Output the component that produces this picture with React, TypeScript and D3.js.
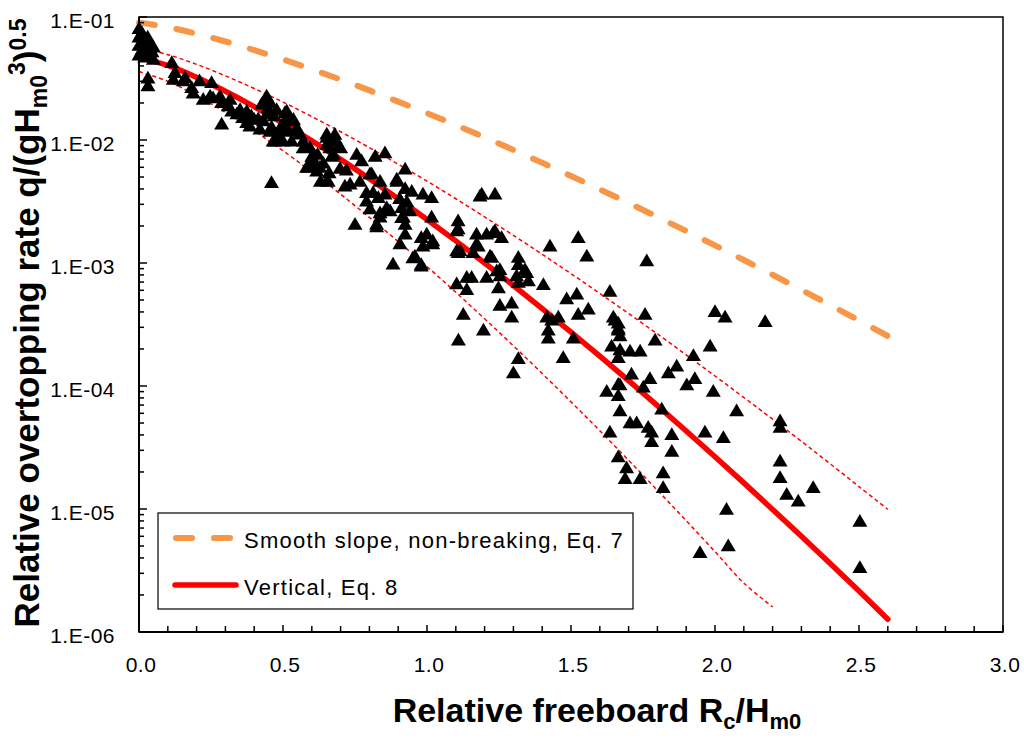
import React from 'react';
import * as d3 from 'd3';

// ---------- data ----------
const xTickValues = [0, 0.5, 1.0, 1.5, 2.0, 2.5, 3.0];
const xTickLabels = ['0.0', '0.5', '1.0', '1.5', '2.0', '2.5', '3.0'];
const yTickValues = [1e-1, 1e-2, 1e-3, 1e-4, 1e-5, 1e-6];
const yTickLabels = ['1.E-01', '1.E-02', '1.E-03', '1.E-04', '1.E-05', '1.E-06'];

const curveRc = [0, 0.1, 0.2, 0.3, 0.4, 0.5, 0.6, 0.7, 0.8, 0.9, 1.0, 1.1, 1.2, 1.3, 1.4, 1.5, 1.6, 1.7, 1.8, 1.9, 2.0, 2.1, 2.2, 2.3, 2.4, 2.5, 2.6];
const smoothSlopeQ = [0.09, 0.0827, 0.073, 0.0632, 0.0538, 0.0452, 0.0376, 0.031, 0.0253, 0.0205, 0.01654, 0.01323, 0.01051, 0.00831, 0.00652, 0.0051, 0.00397, 0.00307, 0.00237, 0.00182, 0.00139, 0.001058, 0.000802, 0.000605, 0.000455, 0.000341, 0.000255];
const verticalQ = [0.047, 0.0404, 0.0323, 0.0249, 0.01868, 0.01369, 0.00985, 0.00696, 0.00485, 0.00333, 0.002257, 0.001512, 0.001001, 0.000656, 0.000426, 0.000274, 0.000175, 0.0001105, 0.0000693, 0.0000431, 0.0000266, 0.0000163, 0.00000992, 0.000006, 0.0000036, 0.00000215, 0.00000127];
const upperQ = [0.056, 0.0494, 0.0412, 0.03324, 0.02624, 0.02034, 0.0155, 0.01167, 0.00866, 0.00636, 0.00463, 0.00333, 0.00237, 0.001678, 0.001177, 0.000819, 0.000566, 0.000388, 0.000265, 0.000179, 0.0001206, 0.0000807, 0.0000537, 0.0000355, 0.0000233, 0.0000152, 0.00000994];
const lowerRc = [0, 0.1, 0.2, 0.3, 0.4, 0.5, 0.6, 0.7, 0.8, 0.9, 1.0, 1.1, 1.2, 1.3, 1.4, 1.5, 1.6, 1.7, 1.8, 1.9, 2.0, 2.1, 2.2];
const lowerQ = [0.036, 0.03, 0.02295, 0.01678, 0.01187, 0.00818, 0.0055, 0.003625, 0.002346, 0.001494, 0.000936, 0.000578, 0.000352, 0.000212, 0.0001263, 0.0000743, 0.0000433, 0.0000249, 0.0000142, 0.00000803, 0.0000045, 0.0000025, 0.0000016];

const observed: [number, number][] = [
  [0.0, 0.082], [0.0, 0.07], [0.0, 0.06], [0.0, 0.05], [0.01, 0.076], [0.01, 0.055], [0.015, 0.066],
  [0.02, 0.048], [0.025, 0.058], [0.03, 0.07], [0.035, 0.05], [0.04, 0.062], [0.045, 0.053],
  [0.05, 0.058], [0.05, 0.046], [0.031, 0.0325], [0.031, 0.028],
  [0.114, 0.0433], [0.125, 0.0359], [0.119, 0.0317], [0.16, 0.0328], [0.154, 0.0308], [0.183, 0.0271],
  [0.21, 0.0308], [0.252, 0.0298], [0.188, 0.0245], [0.223, 0.0218], [0.247, 0.0232], [0.281, 0.0232],
  [0.287, 0.0205], [0.316, 0.0218], [0.257, 0.0224], [0.287, 0.0137], [0.31, 0.0193], [0.322, 0.0175],
  [0.351, 0.018], [0.34, 0.0166], [0.374, 0.0175], [0.39, 0.016], [0.385, 0.0132], [0.374, 0.0141],
  [0.414, 0.0151], [0.443, 0.0211], [0.443, 0.0232], [0.426, 0.0199], [0.455, 0.0205], [0.478, 0.018],
  [0.448, 0.0186], [0.432, 0.0146], [0.42, 0.0125], [0.455, 0.012], [0.483, 0.0114], [0.466, 0.01],
  [0.46, 0.00458], [0.449, 0.0218], [0.443, 0.0165], [0.507, 0.017], [0.513, 0.0175], [0.513, 0.0155],
  [0.536, 0.015], [0.535, 0.0146], [0.548, 0.0121], [0.548, 0.0128], [0.49, 0.0107], [0.472, 0.01],
  [0.5, 0.01], [0.53, 0.01], [0.57, 0.01], [0.559, 0.0114], [0.49, 0.0125], [0.51, 0.0125],
  [0.47, 0.016], [0.5, 0.014], [0.52, 0.012], [0.46, 0.013], [0.4, 0.015], [0.36, 0.0155],
  [0.594, 0.00883], [0.57, 0.0088], [0.605, 0.0065], [0.605, 0.0069], [0.582, 0.0061], [0.588, 0.0061],
  [0.617, 0.0057], [0.628, 0.0061], [0.652, 0.00473], [0.63, 0.0047], [0.657, 0.0047], [0.652, 0.0114],
  [0.652, 0.0107], [0.68, 0.0113], [0.675, 0.0106], [0.686, 0.01], [0.652, 0.0094], [0.692, 0.0091],
  [0.663, 0.0088], [0.675, 0.0078], [0.669, 0.0075], [0.698, 0.006], [0.733, 0.00447], [0.715, 0.0043],
  [0.6, 0.0075], [0.62, 0.0078], [0.64, 0.0066], [0.66, 0.0055], [0.7, 0.0088], [0.72, 0.0058],
  [0.756, 0.0078], [0.773, 0.0069], [0.82, 0.0075], [0.854, 0.008], [0.802, 0.0054], [0.808, 0.0054],
  [0.767, 0.0047], [0.837, 0.0047], [0.813, 0.0038], [0.79, 0.0038], [0.854, 0.0037], [0.831, 0.00347],
  [0.79, 0.00325], [0.802, 0.0028], [0.86, 0.00287], [0.837, 0.0026], [0.872, 0.0027], [0.895, 0.0047],
  [0.895, 0.0049], [0.924, 0.0059], [0.924, 0.0041], [0.947, 0.0039], [0.986, 0.0037], [1.016, 0.00347],
  [0.912, 0.00287], [0.912, 0.00238], [0.918, 0.0024], [0.924, 0.0021], [0.924, 0.00175], [0.906, 0.00146],
  [0.93, 0.0032], [0.94, 0.0027], [0.905, 0.0034],
  [0.951, 0.00112], [0.958, 0.00116], [0.98, 0.00096], [0.98, 0.00099], [0.882, 0.001], [0.75, 0.0021],
  [0.825, 0.0021], [0.837, 0.0024], [0.825, 0.002], [1.016, 0.0024], [0.999, 0.00175], [1.02, 0.00154],
  [0.986, 0.0014], [0.98, 0.00164], [1.02, 0.00146],
  [1.108, 0.00224], [1.103, 0.00186], [1.108, 0.00193], [1.115, 0.00128], [1.103, 0.00128], [1.172, 0.00175],
  [1.172, 0.00146], [1.207, 0.00175], [1.236, 0.00186], [1.23, 0.0018], [1.259, 0.00164], [1.225, 0.00113],
  [1.178, 0.0014], [1.138, 0.00078], [1.103, 0.00069], [1.19, 0.0037], [1.236, 0.0037], [1.184, 0.00357],
  [1.242, 0.00088], [1.108, 0.00124], [1.16, 0.00124], [1.219, 0.00116], [1.317, 0.00113], [1.317, 0.00099],
  [1.253, 0.0009], [1.253, 0.0008], [1.346, 0.00085], [1.34, 0.0009], [1.311, 0.0008], [1.352, 0.00073],
  [1.404, 0.00068], [1.427, 0.0014], [1.525, 0.00164], [1.555, 0.00116], [1.763, 0.00106], [1.155, 0.00078],
  [1.138, 0.00062], [1.248, 0.00064], [1.207, 0.00078], [1.317, 0.00071], [1.253, 0.00046], [1.294, 0.00048],
  [1.294, 0.00037], [1.126, 0.00039], [1.196, 0.00029], [1.109, 0.00024], [1.317, 0.00017], [1.3, 0.00013],
  [1.421, 0.00029], [1.421, 0.00025], [1.433, 0.00035], [1.456, 0.00037], [1.416, 0.00037], [1.485, 0.00052],
  [1.52, 0.00057], [1.525, 0.00039], [1.56, 0.00043], [1.508, 0.00025], [1.473, 0.000173],
  [1.635, 0.0006], [1.647, 0.00037], [1.653, 0.00035], [1.664, 0.00033], [1.664, 0.0003], [1.664, 0.00029],
  [1.67, 0.00026], [1.641, 0.000215], [1.67, 0.0002], [1.664, 0.000173], [1.705, 0.000196], [1.74, 0.000196],
  [1.757, 0.00039], [1.792, 0.00024], [2.0, 0.00041], [2.035, 0.00037], [2.174, 0.00034], [1.983, 0.000215],
  [1.925, 0.00018], [1.867, 0.000148], [1.838, 0.00013], [1.93, 0.000117], [1.902, 0.000104], [1.994, 0.000092],
  [1.71, 0.000127], [1.774, 0.000117], [1.751, 0.0001], [1.67, 0.000104], [1.664, 0.000105], [1.624, 0.000092],
  [1.664, 0.000085], [2.075, 0.000064], [1.815, 0.000066], [1.67, 0.000064], [1.705, 0.000051], [1.728, 0.000051],
  [1.768, 0.000047], [1.78, 0.000043], [1.78, 0.000036], [1.85, 0.000041], [1.85, 0.00003], [1.635, 0.000043],
  [1.664, 0.000027], [1.693, 0.000022], [1.688, 0.000018], [1.74, 0.000018], [1.82, 0.00002], [1.82, 0.0000152],
  [1.965, 0.000043], [2.029, 0.0000387], [2.226, 0.000053], [2.226, 0.000047], [2.226, 0.000025], [2.226, 0.0000183],
  [2.249, 0.0000134], [2.289, 0.0000118], [2.341, 0.0000152], [2.04, 0.0000101], [2.046, 0.0000051], [1.948, 0.0000045],
  [2.503, 0.0000081], [2.503, 0.0000034],
];

const legendLabels = ['Smooth slope, non-breaking, Eq. 7', 'Vertical, Eq. 8'];

// ---------- layout ----------
const W = 1024;
const H = 740;
const X0 = 139, X1 = 1003, Y0 = 17, Y1 = 632;
const FONT = '"Liberation Sans", Arial, sans-serif';
const ORANGE = '#F79646';
const RED = '#FF0000';

const triangleType = {
  draw(ctx: any, size: number) {
    const w = Math.sqrt(size) * 0.75;
    const h = w * 0.85;
    ctx.moveTo(0, -h);
    ctx.lineTo(w, h);
    ctx.lineTo(-w, h);
    ctx.closePath();
  },
};

export default function App() {
  const x = d3.scaleLinear().domain([0, 3]).range([X0, X1]);
  const y = d3.scaleLog().domain([1e-6, 1e-1]).range([Y1, Y0]);

  const line = d3
    .line<[number, number]>()
    .x((d) => x(d[0]))
    .y((d) => y(d[1]))
    .curve(d3.curveCatmullRom);

  const eq7 = curveRc.map((r, i) => [r, smoothSlopeQ[i]] as [number, number]);
  const eq8 = curveRc.map((r, i) => [r, verticalQ[i]] as [number, number]);
  const up = curveRc.map((r, i) => [r, upperQ[i]] as [number, number]);
  const lo = lowerRc.map((r, i) => [r, lowerQ[i]] as [number, number]);

  const sym = d3.symbol(triangleType as any, 100)();

  const xMinor = d3.range(0, 31).map((i) => i / 10);
  const yMinor: number[] = [];
  for (let e = -6; e <= -2; e++) {
    for (let k = 2; k <= 9; k++) yMinor.push(k * Math.pow(10, e));
  }

  return (
    <svg
      width={W}
      height={H}
      style={{ position: 'absolute', left: 0, top: 0, background: '#fff' }}
      fontFamily={FONT}
    >
      <rect x={0} y={0} width={W} height={H} fill="#fff" />

      {/* curves */}
      <path d={line(lo) || ''} fill="none" stroke={RED} strokeWidth={1.5} strokeDasharray="4,3" />
      <path d={line(up) || ''} fill="none" stroke={RED} strokeWidth={1.5} strokeDasharray="4,3" />
      <path d={line(eq8) || ''} fill="none" stroke={RED} strokeWidth={5.5} strokeLinecap="round" />
      <path
        d={line(eq7) || ''}
        fill="none"
        stroke={ORANGE}
        strokeWidth={6}
        strokeLinecap="round"
        strokeDasharray="16,22"
      />

      {/* observations */}
      {observed.map((d, i) => (
        <path key={i} d={sym || ''} transform={`translate(${x(d[0])},${y(d[1])})`} fill="#000" />
      ))}

      {/* frame */}
      <rect x={X0} y={Y0} width={X1 - X0} height={Y1 - Y0} fill="none" stroke="#000" strokeWidth={1.5} />
      <line x1={X0} x2={X0} y1={Y0} y2={Y1} stroke="#000" strokeWidth={2} />
      <line x1={X0} x2={X1} y1={Y1} y2={Y1} stroke="#000" strokeWidth={2} />

      {/* x ticks */}
      {xMinor.map((v, i) => (
        <line key={'xm' + i} x1={x(v)} x2={x(v)} y1={Y1} y2={Y1 - (i % 5 === 0 ? 7 : 6)} stroke="#000" strokeWidth={1.5} />
      ))}
      {xTickValues.map((v, i) => (
        <text key={'xl' + i} x={x(v) + 2} y={672} textAnchor="middle" fontSize={21} fill="#000" letterSpacing={0.5}>
          {xTickLabels[i]}
        </text>
      ))}

      {/* y ticks */}
      {yMinor.map((v, i) => (
        <line key={'ym' + i} x1={X0} x2={X0 + 5} y1={y(v)} y2={y(v)} stroke="#000" strokeWidth={1.5} />
      ))}
      {yTickValues.map((v, i) => (
        <g key={'yl' + i}>
          <line x1={X0} x2={X0 + 8} y1={y(v)} y2={y(v)} stroke="#000" strokeWidth={1.5} />
          <text x={115} y={y(v) + 11} textAnchor="end" fontSize={21} fill="#000" letterSpacing={0.5}>
            {yTickLabels[i]}
          </text>
        </g>
      ))}

      {/* axis titles */}
      <text x={597} y={722} textAnchor="middle" fontSize={34} fontWeight="bold" fill="#000">
        Relative freeboard R<tspan fontSize={22} dy={7}>c</tspan>
        <tspan dy={-7}>/H</tspan>
        <tspan fontSize={22} dy={7}>m0</tspan>
      </text>
      <text
        transform="translate(39,323) rotate(-90)"
        textAnchor="middle"
        fontSize={35}
        fontWeight="bold"
        fill="#000"
      >
        Relative overtopping rate q/(gH<tspan fontSize={23} dy={8}>m0</tspan>
        <tspan fontSize={23} dy={-22}>3</tspan>
        <tspan dy={14}>)</tspan>
        <tspan fontSize={23} dy={-13}>0.5</tspan>
      </text>

      {/* legend */}
      <rect x={158} y={513} width={475} height={96} fill="#fff" stroke="#000" strokeWidth={1.2} />
      <line x1={176} x2={233} y1={538} y2={538} stroke={ORANGE} strokeWidth={6} strokeLinecap="round" strokeDasharray="16,22" />
      <text x={244} y={548} fontSize={22} fill="#000" letterSpacing={1.25}>
        {legendLabels[0]}
      </text>
      <line x1={175} x2={236} y1={585} y2={585} stroke={RED} strokeWidth={5.5} strokeLinecap="round" />
      <text x={244} y={595} fontSize={22} fill="#000" letterSpacing={1.25}>
        {legendLabels[1]}
      </text>
    </svg>
  );
}
